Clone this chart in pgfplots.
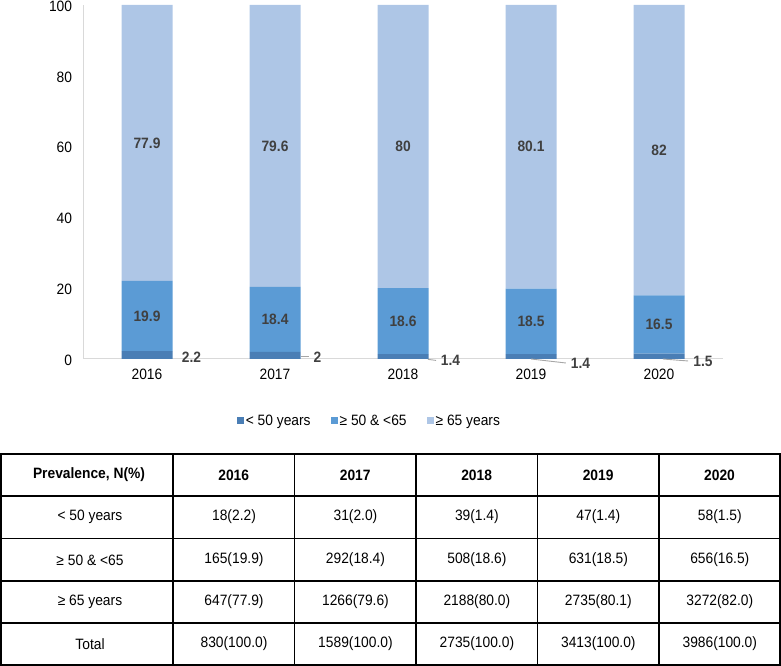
\documentclass[border=0pt]{standalone}
\usepackage{pgfplots}
\pgfplotsset{compat=1.18}
\usepackage{pgfplotstable}
\usepackage{fontspec}
\setmainfont{Liberation Sans}[FakeStretch=0.92]
\definecolor{cA}{HTML}{4A7EB5}
\definecolor{cB}{HTML}{5B9BD5}
\definecolor{cC}{HTML}{AEC6E6}
\definecolor{axgray}{HTML}{D9D9D9}
\definecolor{labgray}{HTML}{404040}
\definecolor{leadgray}{HTML}{A6A6A6}

\pgfplotstableread{
x a b c
0 2.2 19.9 77.9
1 2.0 18.4 79.6
2 1.4 18.6 80.0
3 1.4 18.5 80.1
4 1.5 16.5 82.0
}\bars

\pgfplotstableread{
x y lab
0 12.15 19.9
1 11.2 18.4
2 10.7 18.6
3 10.65 18.5
4 9.75 16.5
0 61.05 77.9
1 60.2 79.6
2 60.0 80
3 59.95 80.1
4 59.0 82
}\biglabels

\pgfplotstableread{
x y lab
0.348 0.56 2.2
1.332 0.56 2
2.371 -0.28 1.4
3.387 -1.13 1.4
4.344 -0.56 1.5
}\smalllabels

\newcommand{\fs}{\fontsize{15bp}{17bp}\selectfont}

\begin{document}
\begin{tikzpicture}
\useasboundingbox (0,0) rectangle (781bp,666bp);

\begin{axis}[
  at={(83bp,307bp)}, anchor=south west,
  scale only axis, width=640bp, height=354bp,
  xmin=-0.5, xmax=4.5, ymin=0, ymax=100,
  ybar stacked, bar width=51bp,
  axis x line*=bottom, axis y line*=left,
  axis line style={axgray, line width=1bp},
  major tick length=0pt,
  xtick={0,1,2,3,4}, xticklabels={2016,2017,2018,2019,2020},
  ytick={0,20,40,60,80,100},
  /pgf/number format/assume math mode=true,
  ticklabel style={font=\fs, black},
  yticklabel style={xshift=-7.4bp, yshift=-1.2bp},
  xticklabel style={yshift=-7bp},
  legend columns=3,
  legend style={at={(0.4475,-0.175)}, anchor=center, draw=none, fill=none,
    font=\fs, /tikz/every even column/.append style={column sep=18bp}},
]
\addplot[fill=cA, draw=none, legend image code/.code={\fill[cA] (1bp,-3.5bp) rectangle (8bp,3.5bp);}] table[x=x,y=a]{\bars};
\addlegendentry{< 50 years}
\addplot[fill=cB, draw=none, legend image code/.code={\fill[cB] (1bp,-3.5bp) rectangle (8bp,3.5bp);}] table[x=x,y=b]{\bars};
\addlegendentry{≥ 50 \& <65}
\addplot[fill=cC, draw=none, legend image code/.code={\fill[cC] (1bp,-3.5bp) rectangle (8bp,3.5bp);}] table[x=x,y=c]{\bars};
\addlegendentry{≥ 65 years}
\end{axis}

\begin{axis}[
  at={(83bp,307bp)}, anchor=south west,
  scale only axis, width=640bp, height=354bp,
  xmin=-0.5, xmax=4.5, ymin=0, ymax=100,
  hide axis, clip=false,
  nodes near coords={\pgfplotspointmeta},
  point meta=explicit symbolic,
  every node near coord/.append style={font=\fs\bfseries, text=labgray, anchor=center, inner sep=0pt},
]
\addplot[only marks, mark=none] table[x=x,y=y,meta=lab]{\biglabels};
\addplot[only marks, mark=none] table[x=x,y=y,meta=lab]{\smalllabels};
\addplot[leadgray, line width=0.9bp, no marks, nodes near coords={}] coordinates {(1.2,0.6) (1.2625,0.6)};
\addplot[leadgray, line width=0.9bp, no marks, nodes near coords={}] coordinates {(2.195,-0.1) (2.258,-0.4)};
\addplot[leadgray, line width=0.9bp, no marks, nodes near coords={}] coordinates {(3.0,0.0) (3.273,-1.13)};
\addplot[leadgray, line width=0.9bp, no marks, nodes near coords={}] coordinates {(4.03,0.0) (4.227,-0.56)};
\end{axis}

% table
\begin{scope}[line width=1.6bp]
\draw (1bp,1bp) rectangle (780bp,212bp);
\foreach \y in {170,127.5,85,43} \draw (1bp,\y bp) -- (780bp,\y bp);
\foreach \x in {173,294.5,416,537.5,659} \draw (\x bp,1bp) -- (\x bp,212bp);
\end{scope}
\begin{scope}[every node/.style={font=\fs, anchor=center, inner sep=0pt}]
\node[font=\fs\bfseries] at (89bp,191bp) {Prevalence, N(\%)};
\foreach \t [count=\i from 0] in {2016,2017,2018,2019,2020}
  \node[font=\fs\bfseries] at ({233.75bp+\i*121.45bp},191bp) {\t};
\node at (90bp,149bp) {< 50 years};
\node at (90bp,106bp) {≥ 50 \& <65};
\node at (90bp,64bp) {≥ 65 years};
\node at (90bp,22bp) {Total};
\foreach \t [count=\i from 0] in {18(2.2),31(2.0),39(1.4),47(1.4),58(1.5)}
  \node at ({234bp+\i*121.45bp},149bp) {\t};
\foreach \t [count=\i from 0] in {165(19.9),292(18.4),508(18.6),631(18.5),656(16.5)}
  \node at ({234bp+\i*121.45bp},106bp) {\t};
\foreach \t [count=\i from 0] in {647(77.9),1266(79.6),2188(80.0),2735(80.1),3272(82.0)}
  \node at ({234bp+\i*121.45bp},64bp) {\t};
\foreach \t [count=\i from 0] in {830(100.0),1589(100.0),2735(100.0),3413(100.0),3986(100.0)}
  \node at ({234bp+\i*121.45bp},22bp) {\t};
\end{scope}
\end{tikzpicture}
\end{document}
